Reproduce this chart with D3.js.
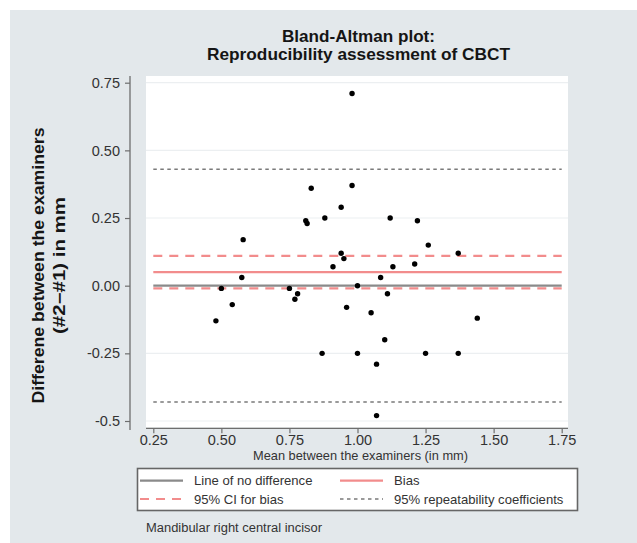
<!DOCTYPE html>
<html>
<head>
<meta charset="utf-8">
<script src="https://cdn.jsdelivr.net/npm/d3@7"></script>
<style>
  html, body { margin: 0; padding: 0; background: #ffffff; }
  svg { display: block; }
</style>
</head>
<body>
<svg id="chart" width="637" height="543"></svg>
<script>
// ---- Data ----
const titleLines = ["Bland-Altman plot:", "Reproducibility assessment of CBCT"];
const yTitleLines = ["Differene between the examiners", "(#2\u2212#1) in mm"];
const xTitle = "Mean between the examiners (in mm)";
const footnote = "Mandibular right central incisor";

const xTicks = [0.25, 0.50, 0.75, 1.00, 1.25, 1.50, 1.75];
const xTickLabels = ["0.25", "0.50", "0.75", "1.00", "1.25", "1.50", "1.75"];
const yTicks = [0.75, 0.50, 0.25, 0.00, -0.25, -0.5];
const yTickLabels = ["0.75", "0.50", "0.25", "0.00", "-0.25", "-0.5"];

// mean between examiners (mm)
const meanValues = [0.98, 0.83, 0.98, 0.94, 0.81, 0.815, 0.88, 1.12, 1.22, 0.58,
                    1.26, 0.94, 1.37, 0.95, 0.91, 1.21, 1.13, 0.575, 1.085, 0.50,
                    0.75, 1.00, 0.78, 1.11, 0.77, 0.54, 0.96, 1.05, 1.44, 0.48,
                    1.10, 0.87, 1.00, 1.25, 1.37, 1.07, 1.07];
// difference (#2 - #1) in mm
const diffValues = [0.71, 0.36, 0.37, 0.29, 0.24, 0.23, 0.25, 0.25, 0.24, 0.17,
                    0.15, 0.12, 0.12, 0.10, 0.07, 0.08, 0.07, 0.03, 0.03, -0.01,
                    -0.01, 0.00, -0.03, -0.03, -0.05, -0.07, -0.08, -0.10, -0.12, -0.13,
                    -0.20, -0.25, -0.25, -0.25, -0.25, -0.29, -0.48];

const noDifference = 0;
const bias = 0.05;
const ciBias = [0.11, -0.01];
const repeatability = [0.43, -0.43];

const legendLabels = ["Line of no difference", "Bias", "95% CI for bias", "95% repeatability coefficients"];

// ---- Drawing ----
const svg = d3.select("#chart");
const FONT = "'Liberation Sans', Arial, sans-serif";
const pink = "#f28c8c";
const grayLine = "#8a8a8a";
const dotGray = "#7a7a7a";

// background panel
svg.append("rect").attr("x", 10).attr("y", 10).attr("width", 627).attr("height", 533)
  .attr("fill", "#e3e8eb");

const x = d3.scaleLinear().domain([0.25, 1.75]).range([153.3, 561.7]);
const y = d3.scaleLinear().domain([-0.5, 0.75]).range([421, 82.7]);

// plot region
svg.append("rect").attr("x", 146).attr("y", 76).attr("width", 422).attr("height", 351.5)
  .attr("fill", "#ffffff");

// gridlines
svg.append("g").selectAll("line").data(yTicks.filter(d => d !== 0)).join("line")
  .attr("x1", 146).attr("x2", 568)
  .attr("y1", d => y(d)).attr("y2", d => y(d))
  .attr("stroke", "#eceff1").attr("stroke-width", 1.2);

// Y axis
const yAxis = d3.axisLeft(y).tickValues(yTicks)
  .tickFormat((d, i) => yTickLabels[i]).tickSize(5).tickPadding(5);
const gy = svg.append("g").attr("transform", "translate(130,0)").call(yAxis);
gy.select(".domain").remove();
gy.append("line").attr("x1", 0).attr("x2", 0).attr("y1", 76).attr("y2", 430)
  .attr("stroke", "#6e6e6e").attr("stroke-width", 1.3);
gy.selectAll(".tick line").attr("stroke", "#6e6e6e").attr("stroke-width", 1.2);
gy.selectAll(".tick text").attr("fill", "#333").style("font-family", FONT).style("font-size", "14.5px");

// X axis
const xAxis = d3.axisBottom(x).tickValues(xTicks)
  .tickFormat((d, i) => xTickLabels[i]).tickSize(5).tickPadding(1.5);
const gx = svg.append("g").attr("transform", "translate(0,428.3)").call(xAxis);
gx.select(".domain").remove();
gx.append("line").attr("x1", 146).attr("x2", 568).attr("y1", 0).attr("y2", 0)
  .attr("stroke", "#6e6e6e").attr("stroke-width", 1.3);
gx.selectAll(".tick line").attr("stroke", "#6e6e6e").attr("stroke-width", 1.2);
gx.selectAll(".tick text").attr("fill", "#333").style("font-family", FONT).style("font-size", "14.5px");

// reference lines
const x0 = x(0.25), x1 = x(1.75);
function hline(v, color, dash, w) {
  svg.append("line").attr("x1", x0).attr("x2", x1)
    .attr("y1", y(v)).attr("y2", y(v))
    .attr("stroke", color).attr("stroke-width", w)
    .attr("stroke-dasharray", dash);
}
repeatability.forEach(v => hline(v, dotGray, "3.5,3.5", 1.5));
hline(noDifference, grayLine, null, 2.2);
hline(bias, pink, null, 2.2);
ciBias.forEach(v => hline(v, pink, "9,7", 2.2));

// points
svg.append("g").selectAll("circle").data(meanValues.map((m, i) => [m, diffValues[i]])).join("circle")
  .attr("cx", d => x(d[0])).attr("cy", d => y(d[1])).attr("r", 2.7)
  .attr("fill", "#000");

// title
const titleWidths = [153, 303];
svg.append("g").selectAll("text").data(titleLines).join("text")
  .attr("x", 358.5).attr("y", (d, i) => 41.7 + i * 18.3)
  .attr("text-anchor", "middle")
  .attr("textLength", (d, i) => titleWidths[i]).attr("lengthAdjust", "spacingAndGlyphs")
  .style("font-family", FONT).style("font-weight", "bold").style("font-size", "16.5px")
  .attr("fill", "#151515")
  .text(d => d);

// y title
const yTitleWidths = [276, 137];
svg.append("g").selectAll("text").data(yTitleLines).join("text")
  .attr("transform", (d, i) => `translate(${43.5 + i * 21},265.5) rotate(-90)`)
  .attr("text-anchor", "middle")
  .attr("textLength", (d, i) => yTitleWidths[i]).attr("lengthAdjust", "spacingAndGlyphs")
  .style("font-family", FONT).style("font-weight", "bold").style("font-size", "16px")
  .attr("fill", "#151515")
  .text(d => d);

// x title
svg.append("text").attr("x", 360.5).attr("y", 459.5).attr("text-anchor", "middle")
  .attr("textLength", 215).attr("lengthAdjust", "spacingAndGlyphs")
  .style("font-family", FONT).style("font-size", "12.8px").attr("fill", "#333")
  .text(xTitle);

// legend
const lg = svg.append("g");
lg.append("rect").attr("x", 137.5).attr("y", 468.5).attr("width", 440).attr("height", 42)
  .attr("fill", "#fff").attr("stroke", "#666").attr("stroke-width", 1.6);
const legendItems = [
  { label: legendLabels[0], color: grayLine, dash: null, w: 2.2, col: 0, row: 0 },
  { label: legendLabels[1], color: pink, dash: null, w: 2.2, col: 1, row: 0 },
  { label: legendLabels[2], color: pink, dash: "9,7", w: 2.2, col: 0, row: 1 },
  { label: legendLabels[3], color: dotGray, dash: "3.5,3.5", w: 1.5, col: 1, row: 1 }
];
const colX = [140, 340];
const rowY = [480.7, 499];
legendItems.forEach(it => {
  const lx = colX[it.col], ly = rowY[it.row];
  lg.append("line").attr("x1", lx).attr("x2", lx + 43).attr("y1", ly).attr("y2", ly)
    .attr("stroke", it.color).attr("stroke-width", it.w).attr("stroke-dasharray", it.dash);
  lg.append("text").attr("x", lx + 54).attr("y", ly + 4.6)
    .style("font-family", FONT).style("font-size", "13.1px").attr("fill", "#333")
    .text(it.label);
});

// footnote
svg.append("text").attr("x", 146).attr("y", 532)
  .attr("textLength", 176).attr("lengthAdjust", "spacingAndGlyphs")
  .style("font-family", FONT).style("font-size", "12px").attr("fill", "#333")
  .text(footnote);
</script>
</body>
</html>
